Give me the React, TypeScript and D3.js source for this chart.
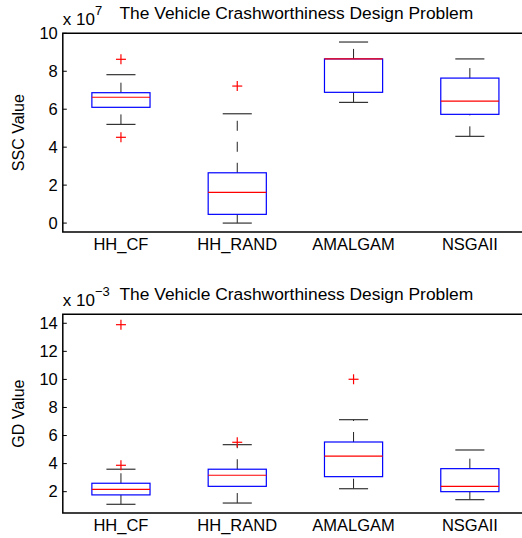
import React from "react";
import * as d3 from "d3";

const categories = ["HH_CF", "HH_RAND", "AMALGAM", "NSGAII"];

// SSC values (x 1e7)
const sscLower = [5.2, 0.0, 6.36, 4.57];
const sscQ1 = [6.1, 0.46, 6.89, 5.73];
const sscMedian = [6.63, 1.62, 8.65, 6.43];
const sscQ3 = [6.87, 2.65, 8.65, 7.64];
const sscUpper = [7.82, 5.76, 9.54, 8.65];
const sscOutliers = [[8.63, 4.52], [7.22], [], []];
const sscTicks = [0, 2, 4, 6, 8, 10];

// GD values (x 1e-3)
const gdLower = [1.1, 1.19, 2.21, 1.43];
const gdQ1 = [1.77, 2.38, 3.07, 2.0];
const gdMedian = [2.17, 3.17, 4.54, 2.38];
const gdQ3 = [2.6, 3.6, 5.54, 3.64];
const gdUpper = [3.6, 5.35, 7.13, 4.97];
const gdOutliers = [[13.9, 3.88], [5.52], [10.01], []];
const gdTicks = [2, 4, 6, 8, 10, 12, 14];

const FONT = "'Liberation Sans', Arial, Helvetica, sans-serif";
const TITLE = "The Vehicle Crashworthiness Design Problem";

type PanelProps = {
  top: number;
  bottom: number;
  domain: [number, number];
  ticks: number[];
  lower: number[];
  q1: number[];
  median: number[];
  q3: number[];
  upper: number[];
  outliers: number[][];
  ylabel: string;
  exponent: string;
};

function Panel(p: PanelProps) {
  const left = 62.8;
  const right = 528;
  const x = d3.scaleLinear().domain([0.5, 4.5]).range([left, right]);
  const y = d3.scaleLinear().domain(p.domain).range([p.bottom, p.top]);
  const bw = x(0.25) - x(0);
  const cw = x(0.125) - x(0);
  return (
    <g>
      {/* title */}
      <text
        x={(left + right) / 2 + 1}
        y={p.top - 14.5}
        textAnchor="middle"
        fontSize={17.4}
        fontFamily={FONT}
        fill="#000"
      >
        {TITLE}
      </text>
      {/* exponent */}
      <text x={left} y={p.top - 8.5} fontSize={17} fontFamily={FONT} fill="#000">
        x 10
        <tspan dy={-10} fontSize={13}>
          {p.exponent}
        </tspan>
      </text>
      {/* y label */}
      <text
        transform={`translate(24,${(p.top + p.bottom) / 2}) rotate(-90)`}
        textAnchor="middle"
        fontSize={16}
        fontFamily={FONT}
        fill="#000"
      >
        {p.ylabel}
      </text>
      {/* y ticks */}
      {p.ticks.map((t) => (
        <g key={t}>
          <line x1={left} x2={left + 4} y1={y(t)} y2={y(t)} stroke="#000" strokeWidth={1} />
          <text
            x={left - 5}
            y={y(t) + 5.5}
            textAnchor="end"
            fontSize={16.5}
            fontFamily={FONT}
            fill="#000"
          >
            {t}
          </text>
        </g>
      ))}
      {/* x labels */}
      {categories.map((c, i) => (
        <text
          key={c}
          x={x(i + 1)}
          y={p.bottom + 18}
          textAnchor="middle"
          fontSize={16.5}
          fontFamily={FONT}
          fill="#000"
        >
          {c}
        </text>
      ))}
      {/* boxes */}
      {categories.map((c, i) => {
        const cx = x(i + 1);
        return (
          <g key={c}>
            <line
              x1={cx}
              x2={cx}
              y1={y(p.q3[i])}
              y2={y(p.upper[i])}
              stroke="#222"
              strokeWidth={1}
              strokeDasharray="10,11"
            />
            <line
              x1={cx}
              x2={cx}
              y1={y(p.lower[i])}
              y2={y(p.q1[i])}
              stroke="#222"
              strokeWidth={1}
              strokeDasharray="10,11"
            />
            <line x1={cx - cw} x2={cx + cw} y1={y(p.upper[i])} y2={y(p.upper[i])} stroke="#333" strokeWidth={1.2} />
            <line x1={cx - cw} x2={cx + cw} y1={y(p.lower[i])} y2={y(p.lower[i])} stroke="#333" strokeWidth={1.2} />
            <rect
              x={cx - bw}
              y={y(p.q3[i])}
              width={2 * bw}
              height={y(p.q1[i]) - y(p.q3[i])}
              fill="none"
              stroke="#0000ff"
              strokeWidth={1.2}
            />
            <line
              x1={cx - bw}
              x2={cx + bw}
              y1={y(p.median[i])}
              y2={y(p.median[i])}
              stroke="#ff0000"
              strokeWidth={1.2}
            />
            {p.outliers[i].map((o, j) => (
              <g key={j} stroke="#ff0000" strokeWidth={1.2}>
                <line x1={cx - 5} x2={cx + 5} y1={y(o)} y2={y(o)} />
                <line x1={cx} x2={cx} y1={y(o) - 5} y2={y(o) + 5} />
              </g>
            ))}
          </g>
        );
      })}
      {/* axes frame */}
      <path
        d={`M${right},${p.top}H${left}V${p.bottom}H${right}`}
        fill="none"
        stroke="#000"
        strokeWidth={1.5}
      />
    </g>
  );
}

export default function App() {
  return (
    <svg
      width={522}
      height={538}
      style={{ position: "absolute", left: 0, top: 0, background: "#fff" }}
    >
      <rect x={0} y={0} width={522} height={538} fill="#fff" />
      <Panel
        top={33.3}
        bottom={232}
        domain={[-0.47, 10]}
        ticks={sscTicks}
        lower={sscLower}
        q1={sscQ1}
        median={sscMedian}
        q3={sscQ3}
        upper={sscUpper}
        outliers={sscOutliers}
        ylabel="SSC Value"
        exponent="7"
      />
      <Panel
        top={314.3}
        bottom={513}
        domain={[0.48, 14.64]}
        ticks={gdTicks}
        lower={gdLower}
        q1={gdQ1}
        median={gdMedian}
        q3={gdQ3}
        upper={gdUpper}
        outliers={gdOutliers}
        ylabel="GD Value"
        exponent="−3"
      />
    </svg>
  );
}
